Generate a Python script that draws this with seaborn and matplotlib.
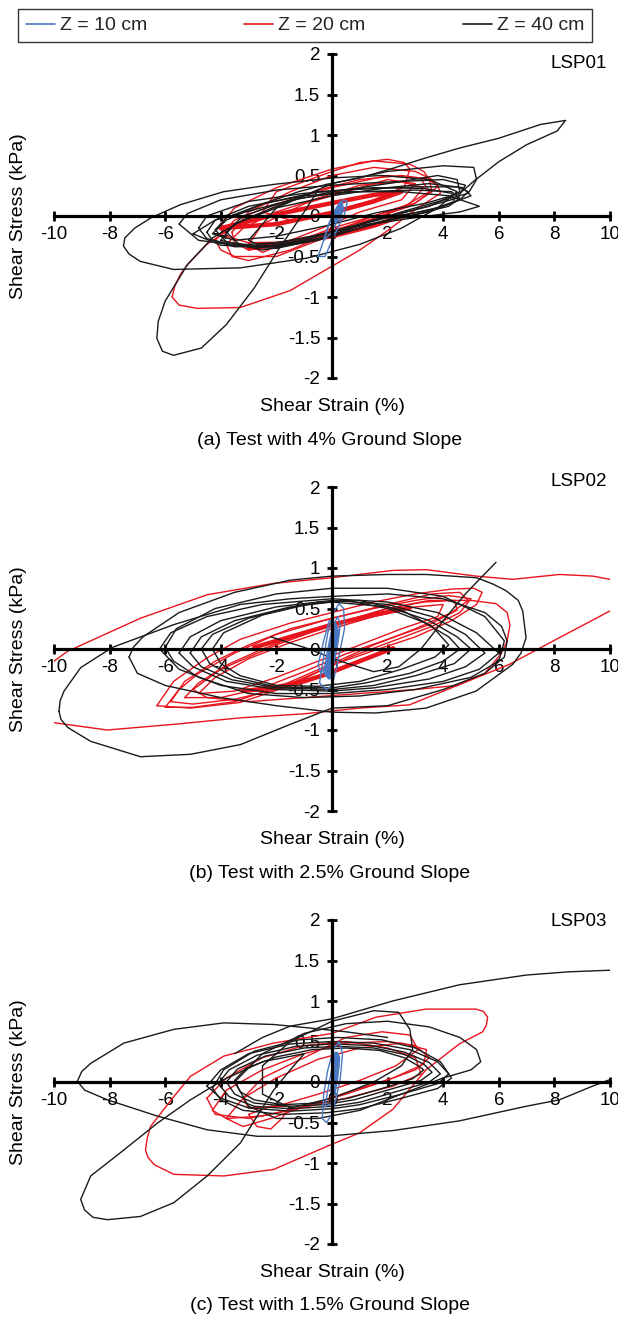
import matplotlib
matplotlib.use("Agg")
import matplotlib.pyplot as plt
import pandas as pd
import seaborn as sns
from matplotlib.lines import Line2D

sns.set_theme(style="white")
plt.rcParams["font.family"] = ["Liberation Sans", "DejaVu Sans"]

# ---------------- labels / ticks ----------------
depth_labels = ["Z = 10 cm", "Z = 20 cm", "Z = 40 cm"]
depth_colors = {"Z = 10 cm": "#4a78c2", "Z = 20 cm": "#e8141c", "Z = 40 cm": "#1a1a1a"}
x_ticks = [-10, -8, -6, -4, -2, 0, 2, 4, 6, 8, 10]
y_ticks = [-2, -1.5, -1, -0.5, 0, 0.5, 1, 1.5, 2]
y_tick_labels = ["-2", "-1.5", "-1", "-0.5", "0", "0.5", "1", "1.5", "2"]
test_names = ["LSP01", "LSP02", "LSP03"]
captions = ["(a) Test with 4% Ground Slope",
            "(b) Test with 2.5% Ground Slope",
            "(c) Test with 1.5% Ground Slope"]
x_label = "Shear Strain (%)"
y_label = "Shear Stress (kPa)"

# ---------------- LSP01 (strain %, stress kPa) ----------------
lsp01_z10 = [
    [(-0.5, -0.5), (-0.3, -0.3), (-0.1, -0.08), (0.15, 0.1), (0.4, 0.2), (0.55, 0.18), (0.45, 0.02),
     (0.25, -0.12), (0.0, -0.3), (-0.25, -0.5), (-0.5, -0.5)],
    [(-0.3, -0.3), (-0.1, -0.1), (0.1, 0.05), (0.3, 0.15), (0.4, 0.1), (0.2, -0.05), (0.0, -0.2), (-0.3, -0.3)],
]
lsp01_z10_thick = [
    [(0.1, -0.06), (0.2, 0.06), (0.32, 0.16), (0.35, 0.08), (0.22, -0.04), (0.1, -0.06)],
]
lsp01_z20 = [
    [(-5.75, -1.0), (-5.65, -0.86), (-5.45, -0.72), (-5.2, -0.6), (-4.5, -0.35), (-3.5, -0.12), (-2.0, 0.12),
     (-0.5, 0.32), (1.0, 0.45), (2.5, 0.5), (3.4, 0.46), (3.8, 0.38), (3.9, 0.28), (3.0, 0.08), (2.0, -0.18),
     (1.0, -0.42), (0.0, -0.62), (-1.5, -0.92), (-3.3, -1.13), (-4.85, -1.14), (-5.5, -1.1), (-5.75, -1.0)],
    [(-4.0, -0.1), (-3.5, 0.1), (-2.0, 0.35), (0.0, 0.58), (1.5, 0.68), (2.8, 0.64), (3.3, 0.55), (3.5, 0.45),
     (3.6, 0.3), (2.8, 0.12), (1.5, -0.03), (0.0, -0.18), (-1.5, -0.32), (-3.0, -0.33), (-3.8, -0.25), (-4.0, -0.1)],
    [(-3.6, -0.2), (-3.0, 0.05), (-1.5, 0.3), (0.0, 0.5), (1.5, 0.6), (3.0, 0.55), (3.6, 0.45), (3.8, 0.36),
     (3.0, 0.16), (1.5, 0.0), (0.0, -0.15), (-1.5, -0.35), (-3.0, -0.42), (-3.5, -0.33), (-3.6, -0.2)],
    [(-4.2, -0.3), (-3.5, -0.05), (-2.0, 0.15), (0.0, 0.35), (2.0, 0.5), (3.2, 0.46), (3.5, 0.3), (2.5, 0.1),
     (1.0, -0.1), (-0.5, -0.3), (-2.0, -0.5), (-3.5, -0.5), (-4.0, -0.42), (-4.2, -0.3)],
    [(-3.0, -0.35), (-2.5, -0.1), (-1.0, 0.15), (0.5, 0.3), (2.0, 0.45), (3.0, 0.4), (2.5, 0.2), (1.0, 0.05),
     (0.0, -0.1), (-1.5, -0.3), (-2.5, -0.45), (-3.0, -0.35)],
    [(-2.5, 0.05), (-2.0, 0.3), (0.0, 0.55), (1.0, 0.66), (2.0, 0.7), (2.6, 0.66), (2.8, 0.58), (2.6, 0.36),
     (1.5, 0.2), (0.0, 0.05), (-1.5, -0.05), (-2.5, 0.05)],
    [(-3.8, -0.35), (-3.2, -0.15), (-2.0, 0.05), (-0.5, 0.22), (1.0, 0.38), (2.5, 0.42), (3.3, 0.35), (2.8, 0.15),
     (1.5, 0.0), (0.0, -0.2), (-1.5, -0.42), (-3.0, -0.55), (-3.6, -0.5), (-3.8, -0.35)],
]
lsp01_z20_thick = [
    [(-4.0, -0.15), (-2.0, 0.02), (0.0, 0.16), (1.5, 0.26), (2.5, 0.3), (1.5, 0.18), (0.0, 0.04), (-2.0, -0.1),
     (-4.0, -0.15)],
    [(-3.0, -0.4), (-1.0, -0.3), (0.0, -0.25), (1.5, -0.12), (2.5, 0.0)],
]
lsp01_z40 = [
    [(-0.2, 0.39), (1.0, 0.47), (2.2, 0.59), (3.4, 0.72), (4.6, 0.84), (6.0, 0.96), (7.5, 1.13), (8.4, 1.18),
     (8.1, 1.05), (7.0, 0.88), (6.0, 0.67), (5.1, 0.43), (4.6, 0.28), (3.4, 0.16), (1.6, 0.04), (-0.2, -0.12),
     (-2.0, -0.25), (-3.5, -0.3), (-4.3, -0.22), (-3.8, -0.05), (-2.5, 0.15), (-1.2, 0.3), (-0.2, 0.39)],
    [(-0.5, 0.32), (-1.0, 0.05), (-1.9, -0.4), (-2.8, -0.89), (-3.8, -1.34), (-4.7, -1.63), (-5.7, -1.72),
     (-6.1, -1.67), (-6.3, -1.51), (-6.25, -1.3), (-6.0, -1.05), (-5.2, -0.6), (-4.3, -0.27), (-3.2, -0.05),
     (-2.0, 0.12), (-1.0, 0.25), (-0.5, 0.32)],
    [(0.0, 0.47), (-2.1, 0.39), (-3.9, 0.3), (-5.45, 0.14), (-6.5, -0.02), (-7.1, -0.15), (-7.45, -0.27),
     (-7.5, -0.37), (-7.3, -0.47), (-6.9, -0.56), (-5.7, -0.66), (-3.3, -0.64), (-0.9, -0.52), (1.0, -0.35),
     (2.5, -0.15), (3.8, 0.1), (4.5, 0.3), (3.5, 0.45), (1.8, 0.5), (0.0, 0.47)],
    [(-5.5, -0.1), (-5.2, 0.03), (-4.0, 0.2), (-2.0, 0.32), (0.0, 0.38), (2.0, 0.42), (4.0, 0.45), (4.8, 0.38),
     (4.5, 0.22), (3.0, 0.08), (1.0, -0.1), (-1.0, -0.28), (-3.0, -0.38), (-4.8, -0.3), (-5.5, -0.1)],
    [(-4.8, -0.15), (-4.5, 0.0), (-3.0, 0.18), (-1.0, 0.28), (1.0, 0.33), (3.0, 0.36), (4.5, 0.36), (4.9, 0.3),
     (4.6, 0.2), (3.5, 0.05), (2.0, -0.05), (0.0, -0.2), (-2.0, -0.33), (-3.5, -0.36), (-4.5, -0.28), (-4.8, -0.15)],
    [(-4.5, -0.2), (-4.2, -0.05), (-3.0, 0.12), (-1.0, 0.25), (1.0, 0.3), (3.0, 0.32), (4.3, 0.3), (4.6, 0.22),
     (4.2, 0.12), (3.0, 0.02), (1.5, -0.1), (0.0, -0.25), (-2.0, -0.37), (-3.5, -0.38), (-4.3, -0.3), (-4.5, -0.2)],
    [(-4.2, -0.17), (-3.8, -0.02), (-2.5, 0.15), (-0.5, 0.3), (1.5, 0.35), (3.3, 0.34), (4.3, 0.28), (4.4, 0.18),
     (3.6, 0.08), (2.0, -0.02), (0.5, -0.15), (-1.0, -0.3), (-2.5, -0.38), (-3.8, -0.32), (-4.2, -0.17)],
    [(-3.8, -0.2), (-3.2, 0.0), (-1.5, 0.2), (0.5, 0.3), (2.5, 0.3), (4.2, 0.25), (5.3, 0.12), (4.6, 0.05),
     (3.0, -0.02), (1.0, -0.12), (-0.5, -0.28), (-2.0, -0.38), (-3.3, -0.36), (-3.8, -0.2)],
    [(-3.0, -0.3), (-2.0, 0.1), (0.0, 0.4), (2.0, 0.55), (4.0, 0.62), (5.1, 0.6), (5.2, 0.45), (4.9, 0.28),
     (3.0, 0.1), (1.0, -0.1), (-1.0, -0.3), (-2.5, -0.38), (-3.0, -0.3)],
    [(-5.0, -0.22), (-4.2, -0.05), (-2.0, 0.15), (0.0, 0.3), (2.0, 0.4), (3.8, 0.5), (4.5, 0.45), (4.6, 0.3),
     (3.5, 0.12), (1.5, -0.05), (0.0, -0.25), (-2.0, -0.4), (-4.0, -0.36), (-5.0, -0.22)],
    [(-4.0, -0.3), (-3.5, -0.1), (-2.0, 0.1), (0.0, 0.25), (2.0, 0.35), (3.5, 0.4), (4.7, 0.35), (5.0, 0.25),
     (4.0, 0.12), (2.5, 0.0), (1.0, -0.15), (-0.5, -0.3), (-2.5, -0.42), (-4.0, -0.3)],
]

# ---------------- LSP02 ----------------
lsp02_z10 = [
    [(-0.45, -0.42), (-0.3, -0.1), (-0.15, 0.2), (0.05, 0.45), (0.25, 0.56), (0.42, 0.5), (0.45, 0.25),
     (0.3, 0.0), (0.15, -0.25), (0.0, -0.45), (-0.2, -0.5), (-0.45, -0.42)],
    [(-0.3, -0.3), (-0.15, 0.0), (0.0, 0.25), (0.2, 0.4), (0.3, 0.3), (0.2, 0.05), (0.05, -0.2), (-0.1, -0.35),
     (-0.3, -0.3)],
    [(-0.5, -0.2), (-0.3, 0.1), (-0.1, 0.35), (0.1, 0.3), (0.0, 0.05), (-0.2, -0.2), (-0.4, -0.3), (-0.5, -0.2)],
]
lsp02_z10_thick = [
    [(-0.2, -0.3), (-0.05, 0.0), (0.1, 0.3), (0.2, 0.2), (0.05, -0.1), (-0.1, -0.35), (-0.2, -0.3)],
]
lsp02_z20 = [
    [(-11.0, -0.6), (-10.0, -0.15), (-9.52, -0.03), (-6.89, 0.38), (-4.49, 0.67), (-2.1, 0.81), (0.0, 0.88),
     (2.18, 0.97), (3.38, 0.98), (5.18, 0.9), (6.5, 0.86), (8.18, 0.92), (9.38, 0.9), (10.0, 0.86), (11.0, 0.7),
     (10.0, 0.47), (8.18, 0.14), (6.38, -0.19), (4.58, -0.44), (2.78, -0.69), (0.98, -0.73), (-1.0, -0.8),
     (-3.29, -0.85), (-5.69, -0.93), (-8.08, -1.0), (-10.0, -0.91), (-11.0, -0.6)],
    [(-6.3, -0.7), (-5.7, -0.4), (-4.5, -0.11), (-3.3, 0.12), (-1.5, 0.32), (0.0, 0.45), (1.5, 0.58), (3.0, 0.68),
     (4.3, 0.74), (5.1, 0.75), (5.4, 0.7), (5.2, 0.55), (4.3, 0.35), (3.0, 0.15), (1.5, -0.02), (0.0, -0.2),
     (-1.5, -0.45), (-3.3, -0.66), (-5.1, -0.73), (-6.3, -0.7)],
    [(-5.8, -0.65), (-5.3, -0.4), (-4.2, -0.15), (-3.0, 0.05), (-1.5, 0.25), (0.0, 0.38), (1.5, 0.5), (3.0, 0.6),
     (4.2, 0.66), (5.0, 0.62), (4.6, 0.45), (3.6, 0.28), (2.2, 0.1), (0.8, -0.08), (-0.5, -0.28), (-2.0, -0.5),
     (-3.5, -0.62), (-5.0, -0.68), (-5.8, -0.65)],
    [(-5.3, -0.6), (-4.8, -0.42), (-3.8, -0.2), (-2.5, 0.0), (-1.0, 0.2), (0.5, 0.35), (2.0, 0.5), (3.3, 0.58),
     (4.4, 0.6), (4.5, 0.48), (3.5, 0.3), (2.0, 0.12), (0.5, -0.06), (-1.0, -0.28), (-2.5, -0.48), (-4.0, -0.6),
     (-5.3, -0.6)],
    [(-4.8, -0.55), (-4.2, -0.35), (-3.0, -0.12), (-1.5, 0.08), (0.0, 0.25), (1.5, 0.4), (3.0, 0.52), (4.0, 0.55),
     (3.8, 0.4), (2.5, 0.25), (1.0, 0.05), (-0.5, -0.15), (-2.0, -0.35), (-3.5, -0.52), (-4.8, -0.55)],
    [(-5.0, -0.5), (-4.0, -0.25), (-2.0, 0.05), (0.0, 0.3), (2.0, 0.5), (3.5, 0.6), (5.0, 0.6), (5.9, 0.56),
     (6.3, 0.45), (6.4, 0.3), (6.3, 0.1), (6.1, -0.05), (5.5, -0.3), (4.5, -0.45), (3.0, -0.5), (1.0, -0.55),
     (-1.0, -0.6), (-3.0, -0.65), (-4.5, -0.6), (-5.0, -0.5)],
    [(-6.0, -0.72), (-5.5, -0.5), (-4.8, -0.3), (-3.5, -0.05), (-2.0, 0.18), (0.0, 0.38), (2.0, 0.55), (3.6, 0.68),
     (4.6, 0.7), (4.9, 0.6), (4.3, 0.45), (3.0, 0.25), (1.5, 0.05), (0.0, -0.18), (-1.8, -0.45), (-3.5, -0.65),
     (-5.0, -0.72), (-6.0, -0.72)],
]
lsp02_z20_thick = [
    [(-2.8, 0.02), (-2.1, 0.09), (-1.0, 0.2), (0.0, 0.3), (1.5, 0.42), (2.8, 0.51)],
    [(-3.2, -0.52), (-2.0, -0.47), (-1.0, -0.4), (-0.2, -0.31), (1.0, -0.15), (2.2, 0.01)],
]
lsp02_z40 = [
    [(-9.82, -0.77), (-9.78, -0.64), (-9.64, -0.52), (-9.04, -0.23), (-7.9, 0.02), (-5.7, 0.3), (-3.3, 0.55),
     (-1.5, 0.62), (0.0, 0.65), (2.0, 0.68), (4.0, 0.62), (5.5, 0.45), (6.1, 0.28), (6.3, 0.1), (6.2, -0.1),
     (5.5, -0.3), (4.0, -0.5), (2.0, -0.7), (0.0, -0.73), (-1.5, -0.93), (-3.29, -1.18), (-5.09, -1.3),
     (-6.89, -1.33), (-8.68, -1.14), (-9.5, -0.97), (-9.75, -0.87), (-9.82, -0.77)],
    [(-7.3, -0.1), (-7.15, 0.02), (-6.8, 0.15), (-5.5, 0.45), (-3.5, 0.7), (-1.5, 0.85), (0.0, 0.9), (2.0, 0.92),
     (3.4, 0.92), (5.2, 0.88), (5.8, 0.8), (6.26, 0.72), (6.7, 0.6), (6.86, 0.47), (6.98, 0.14), (6.8, -0.05),
     (6.5, -0.19), (5.18, -0.52), (3.38, -0.73), (1.58, -0.79), (0.0, -0.78), (-2.0, -0.7), (-4.0, -0.6),
     (-6.0, -0.45), (-7.0, -0.3), (-7.3, -0.1)],
    [(-6.2, 0.0), (-5.8, 0.2), (-4.5, 0.4), (-2.5, 0.55), (0.0, 0.62), (2.0, 0.58), (3.8, 0.45), (5.2, 0.2),
     (6.0, -0.05), (5.3, -0.25), (4.0, -0.4), (2.0, -0.5), (0.0, -0.55), (-2.0, -0.55), (-4.0, -0.45),
     (-5.5, -0.25), (-6.2, 0.0)],
    [(-5.5, -0.05), (-5.1, 0.15), (-4.0, 0.35), (-2.0, 0.52), (0.0, 0.6), (2.0, 0.55), (3.6, 0.4), (4.8, 0.18),
     (5.5, -0.05), (4.8, -0.22), (3.5, -0.37), (1.5, -0.48), (0.0, -0.52), (-2.0, -0.5), (-3.8, -0.4),
     (-5.0, -0.22), (-5.5, -0.05)],
    [(-5.1, -0.05), (-4.7, 0.15), (-3.5, 0.35), (-1.5, 0.52), (0.0, 0.58), (2.0, 0.52), (3.5, 0.35), (4.5, 0.15),
     (5.0, 0.0), (4.4, -0.18), (3.0, -0.33), (1.5, -0.45), (0.0, -0.5), (-2.0, -0.48), (-3.6, -0.38),
     (-4.7, -0.22), (-5.1, -0.05)],
    [(-4.7, 0.0), (-4.3, 0.18), (-3.0, 0.38), (-1.0, 0.55), (0.5, 0.6), (2.0, 0.5), (3.3, 0.33), (4.2, 0.15),
     (4.6, 0.0), (4.0, -0.15), (2.8, -0.3), (1.2, -0.42), (0.0, -0.48), (-2.0, -0.47), (-3.5, -0.35),
     (-4.4, -0.18), (-4.7, 0.0)],
    [(-4.3, 0.0), (-3.9, 0.2), (-2.5, 0.42), (-0.5, 0.58), (1.0, 0.6), (2.5, 0.48), (3.6, 0.28), (4.2, 0.05),
     (3.7, -0.1), (2.5, -0.25), (1.0, -0.4), (-0.5, -0.46), (-2.0, -0.45), (-3.3, -0.33), (-4.0, -0.18),
     (-4.3, 0.0)],
    [(-6.0, 0.02), (-5.6, 0.25), (-4.2, 0.5), (-2.0, 0.68), (0.0, 0.75), (2.0, 0.75), (4.0, 0.65), (5.5, 0.4),
     (6.2, 0.1), (6.0, -0.15), (5.0, -0.35), (3.0, -0.5), (1.0, -0.58), (-1.0, -0.6), (-3.0, -0.55),
     (-4.8, -0.35), (-5.7, -0.15), (-6.0, 0.02)],
    [(-2.2, 0.15), (-1.0, 0.02), (0.3, -0.15), (1.5, -0.28), (2.4, -0.22), (3.2, 0.0), (4.0, 0.35), (4.8, 0.68),
     (5.3, 0.86), (5.9, 1.07)],
]

# ---------------- LSP03 ----------------
lsp03_z10 = [
    [(-0.35, -0.45), (-0.3, -0.15), (-0.15, 0.15), (0.05, 0.4), (0.25, 0.5), (0.38, 0.35), (0.3, 0.05),
     (0.15, -0.2), (0.0, -0.4), (-0.2, -0.5), (-0.35, -0.45)],
    [(-0.25, -0.3), (-0.1, 0.0), (0.05, 0.25), (0.2, 0.35), (0.25, 0.2), (0.1, -0.05), (-0.05, -0.28), (-0.25, -0.3)],
]
lsp03_z10_thick = [
    [(0.0, -0.1), (0.08, 0.15), (0.15, 0.35), (0.22, 0.3), (0.15, 0.05), (0.05, -0.15), (0.0, -0.1)],
]
lsp03_z20 = [
    [(-6.71, -0.84), (-6.65, -0.7), (-6.53, -0.55), (-5.69, -0.18), (-5.09, 0.07), (-3.89, 0.32), (-2.1, 0.48),
     (0.0, 0.6), (1.58, 0.8), (3.38, 0.9), (5.18, 0.9), (5.45, 0.87), (5.6, 0.8), (5.55, 0.7), (5.42, 0.62),
     (4.58, 0.47), (3.38, 0.15), (2.18, -0.34), (0.98, -0.63), (-0.22, -0.8), (-2.1, -1.08), (-3.89, -1.16),
     (-5.69, -1.14), (-6.4, -1.02), (-6.62, -0.93), (-6.71, -0.84)],
    [(-4.3, -0.35), (-3.8, -0.1), (-2.5, 0.15), (-1.0, 0.35), (0.5, 0.48), (2.0, 0.5), (3.0, 0.45), (3.5, 0.3),
     (3.0, 0.15), (1.8, 0.0), (0.5, -0.15), (-1.0, -0.3), (-2.5, -0.42), (-3.8, -0.45), (-4.3, -0.35)],
    [(-3.8, -0.45), (-3.2, -0.2), (-2.0, 0.05), (-0.5, 0.28), (1.0, 0.42), (2.5, 0.48), (3.4, 0.4), (3.3, 0.22),
     (2.2, 0.05), (0.8, -0.1), (-0.8, -0.28), (-2.2, -0.45), (-3.2, -0.55), (-3.8, -0.45)],
    [(-3.2, -0.2), (-2.5, 0.05), (-1.0, 0.3), (0.5, 0.55), (1.8, 0.62), (2.8, 0.58), (3.1, 0.4), (2.3, 0.2),
     (1.0, 0.02), (-0.5, -0.15), (-2.0, -0.3), (-3.0, -0.32), (-3.2, -0.2)],
    [(-4.5, -0.2), (-3.8, 0.05), (-2.5, 0.3), (-1.0, 0.45), (0.5, 0.5), (2.0, 0.42), (3.0, 0.3), (3.2, 0.1),
     (2.2, -0.05), (0.5, -0.2), (-1.5, -0.35), (-3.0, -0.45), (-4.2, -0.4), (-4.5, -0.2)],
    [(-3.0, -0.4), (-2.7, -0.55), (-2.2, -0.58), (-1.8, -0.45), (-1.5, -0.3), (-2.2, -0.3), (-3.0, -0.4)],
]
lsp03_z20_thick = []
lsp03_z40 = [
    [(2.0, 0.55), (0.5, 0.62), (-0.9, 0.67), (-2.1, 0.71), (-3.89, 0.73), (-5.69, 0.65), (-7.49, 0.48),
     (-8.68, 0.23), (-9.0, 0.13), (-9.16, 0.01), (-8.9, -0.1), (-8.08, -0.22), (-6.29, -0.42), (-4.49, -0.59),
     (-2.69, -0.67), (-0.22, -0.67), (2.18, -0.6), (4.58, -0.48), (6.98, -0.3), (8.18, -0.22), (9.38, -0.05),
     (10.0, 0.03)],
    [(-3.5, 0.35), (-2.5, 0.55), (-1.5, 0.69), (0.0, 0.78), (2.18, 1.0), (4.58, 1.2), (6.98, 1.32), (8.5, 1.36),
     (10.0, 1.38)],
    [(-1.0, 0.35), (-2.5, 0.25), (-3.89, 0.03), (-5.09, -0.22), (-6.29, -0.51), (-7.49, -0.84), (-8.68, -1.16),
     (-9.04, -1.45), (-8.9, -1.58), (-8.6, -1.67), (-8.08, -1.7), (-6.89, -1.66), (-5.69, -1.49), (-4.49, -1.16),
     (-3.29, -0.75), (-2.69, -0.42), (-2.1, -0.1), (-1.5, 0.15), (-1.0, 0.35)],
    [(-3.5, 0.0), (-2.5, 0.35), (-1.0, 0.6), (0.5, 0.72), (2.0, 0.75), (3.5, 0.68), (4.6, 0.55), (5.2, 0.4),
     (5.35, 0.25), (5.0, 0.15), (4.0, 0.05), (2.5, -0.15), (1.0, -0.35), (-0.5, -0.45), (-2.0, -0.45),
     (-3.0, -0.3), (-3.5, 0.0)],
    [(-2.5, 0.2), (-1.5, 0.5), (0.0, 0.75), (1.5, 0.88), (2.4, 0.86), (2.8, 0.65), (2.9, 0.4), (2.5, 0.2),
     (1.5, 0.0), (0.0, -0.2), (-1.5, -0.32), (-2.5, -0.15), (-2.5, 0.2)],
    [(-4.5, -0.05), (-4.0, 0.15), (-3.0, 0.35), (-1.5, 0.47), (0.0, 0.5), (1.5, 0.48), (2.8, 0.4), (3.8, 0.25),
     (4.2, 0.1), (3.8, -0.02), (2.5, -0.15), (1.0, -0.28), (0.0, -0.33), (-1.5, -0.36), (-3.0, -0.32),
     (-4.0, -0.2), (-4.5, -0.05)],
    [(-4.1, -0.02), (-3.7, 0.15), (-2.7, 0.33), (-1.3, 0.44), (0.0, 0.47), (1.4, 0.45), (2.6, 0.37), (3.5, 0.24),
     (3.9, 0.1), (3.5, 0.0), (2.3, -0.12), (1.0, -0.25), (0.0, -0.3), (-1.5, -0.33), (-2.8, -0.3), (-3.7, -0.18),
     (-4.1, -0.02)],
    [(-3.8, 0.0), (-3.4, 0.16), (-2.4, 0.32), (-1.0, 0.42), (0.2, 0.44), (1.5, 0.42), (2.6, 0.34), (3.3, 0.22),
     (3.6, 0.12), (3.2, 0.02), (2.0, -0.1), (0.8, -0.22), (-0.3, -0.28), (-1.6, -0.3), (-2.8, -0.26),
     (-3.5, -0.15), (-3.8, 0.0)],
    [(-3.5, 0.02), (-3.1, 0.17), (-2.0, 0.31), (-0.7, 0.4), (0.5, 0.42), (1.7, 0.39), (2.6, 0.3), (3.1, 0.2),
     (3.3, 0.15), (2.9, 0.04), (1.8, -0.08), (0.6, -0.2), (-0.5, -0.26), (-1.8, -0.28), (-2.8, -0.22),
     (-3.3, -0.12), (-3.5, 0.02)],
    [(-4.3, -0.08), (-3.9, 0.15), (-2.8, 0.38), (-1.2, 0.52), (0.2, 0.55), (1.8, 0.52), (3.0, 0.42), (3.9, 0.25),
     (4.3, 0.05), (3.8, -0.08), (2.5, -0.2), (1.0, -0.33), (-0.2, -0.38), (-1.8, -0.4), (-3.2, -0.35),
     (-4.0, -0.22), (-4.3, -0.08)],
]

panel_series = [
    {"Z = 10 cm": (lsp01_z10, lsp01_z10_thick), "Z = 20 cm": (lsp01_z20, lsp01_z20_thick), "Z = 40 cm": (lsp01_z40, [])},
    {"Z = 10 cm": (lsp02_z10, lsp02_z10_thick), "Z = 20 cm": (lsp02_z20, lsp02_z20_thick), "Z = 40 cm": (lsp02_z40, [])},
    {"Z = 10 cm": (lsp03_z10, lsp03_z10_thick), "Z = 20 cm": (lsp03_z20, lsp03_z20_thick), "Z = 40 cm": (lsp03_z40, [])},
]

# ---------------- build long table ----------------
rows = []
for p, series in enumerate(panel_series):
    for depth, (thin, thick) in series.items():
        for weight, loops in (("thin", thin), ("thick", thick)):
            for i, loop in enumerate(loops):
                for j, (sx, sy) in enumerate(loop):
                    rows.append({"panel": p, "depth": depth, "weight": weight,
                                 "loop": f"{depth}-{weight}-{i}", "order": j,
                                 "strain": sx, "stress": sy})
df = pd.DataFrame(rows)

# ---------------- figure ----------------
W, H = 618, 1324
fig = plt.figure(figsize=(W / 100, H / 100), dpi=100)
panel_tops = [54, 487, 920]
panel_h = 324
ax_left, ax_w = 54, 556
test_label_y = [64, 482, 922]
caption_y = [441, 873, 1305]

draw_order = ["Z = 20 cm", "Z = 40 cm", "Z = 10 cm"]
widths = {"thin": 1.0, "thick": 3.2}

for p in range(3):
    top = panel_tops[p]
    ax = fig.add_axes([ax_left / W, 1 - (top + panel_h) / H, ax_w / W, panel_h / H])
    ax.set_facecolor("white")
    for depth in draw_order:
        for weight in ("thin", "thick"):
            sub = df[(df.panel == p) & (df.depth == depth) & (df.weight == weight)]
            if sub.empty:
                continue
            sns.lineplot(data=sub, x="strain", y="stress", units="loop", estimator=None,
                         sort=False, color=depth_colors[depth], linewidth=widths[weight],
                         solid_joinstyle="round", solid_capstyle="round",
                         ax=ax, legend=False)
    ax.set_xlim(-10, 10)
    ax.set_ylim(-2, 2)
    ax.grid(False)
    for side in ("top", "right"):
        ax.spines[side].set_visible(False)
    ax.spines["left"].set_position(("data", 0))
    ax.spines["bottom"].set_position(("data", 0))
    for side in ("left", "bottom"):
        ax.spines[side].set_linewidth(2.3)
        ax.spines[side].set_color("black")
        ax.spines[side].set_zorder(5)
    ax.set_xticks(x_ticks)
    ax.set_xticklabels([str(t) for t in x_ticks])
    ax.set_yticks(y_ticks)
    ax.set_yticklabels(y_tick_labels)
    ax.tick_params(axis="both", which="major", direction="inout", length=7, width=2,
                   colors="black", labelsize=13.5, bottom=True, left=True)
    ax.tick_params(axis="x", pad=4)
    ax.tick_params(axis="y", pad=5)
    ax.set_xlabel(x_label, fontsize=14, color="black")
    ax.set_ylabel(y_label, fontsize=14, color="black")
    ax.xaxis.set_label_coords(0.5, -20 / panel_h)
    ax.yaxis.set_label_coords(-27 / ax_w, 0.5)
    fig.text(607 / W, 1 - test_label_y[p] / H, test_names[p], ha="right", va="center",
             fontsize=13.5, color="black")
    fig.text(330 / W, 1 - caption_y[p] / H, captions[p], ha="center", va="center",
             fontsize=14, color="black")

handles = [Line2D([0], [0], color=depth_colors[d], lw=1.2) for d in depth_labels]
leg = fig.legend(handles, depth_labels, loc="upper left", bbox_to_anchor=(18 / W, 1 - 9 / H),
                 ncol=3, frameon=True, fancybox=False, edgecolor="black", fontsize=14,
                 handlelength=1.5, handletextpad=0.25, columnspacing=5.0, borderpad=0.4,
                 borderaxespad=0.0)
leg.get_frame().set_linewidth(1.0)

fig.savefig("out.png", dpi=100, facecolor="white")
